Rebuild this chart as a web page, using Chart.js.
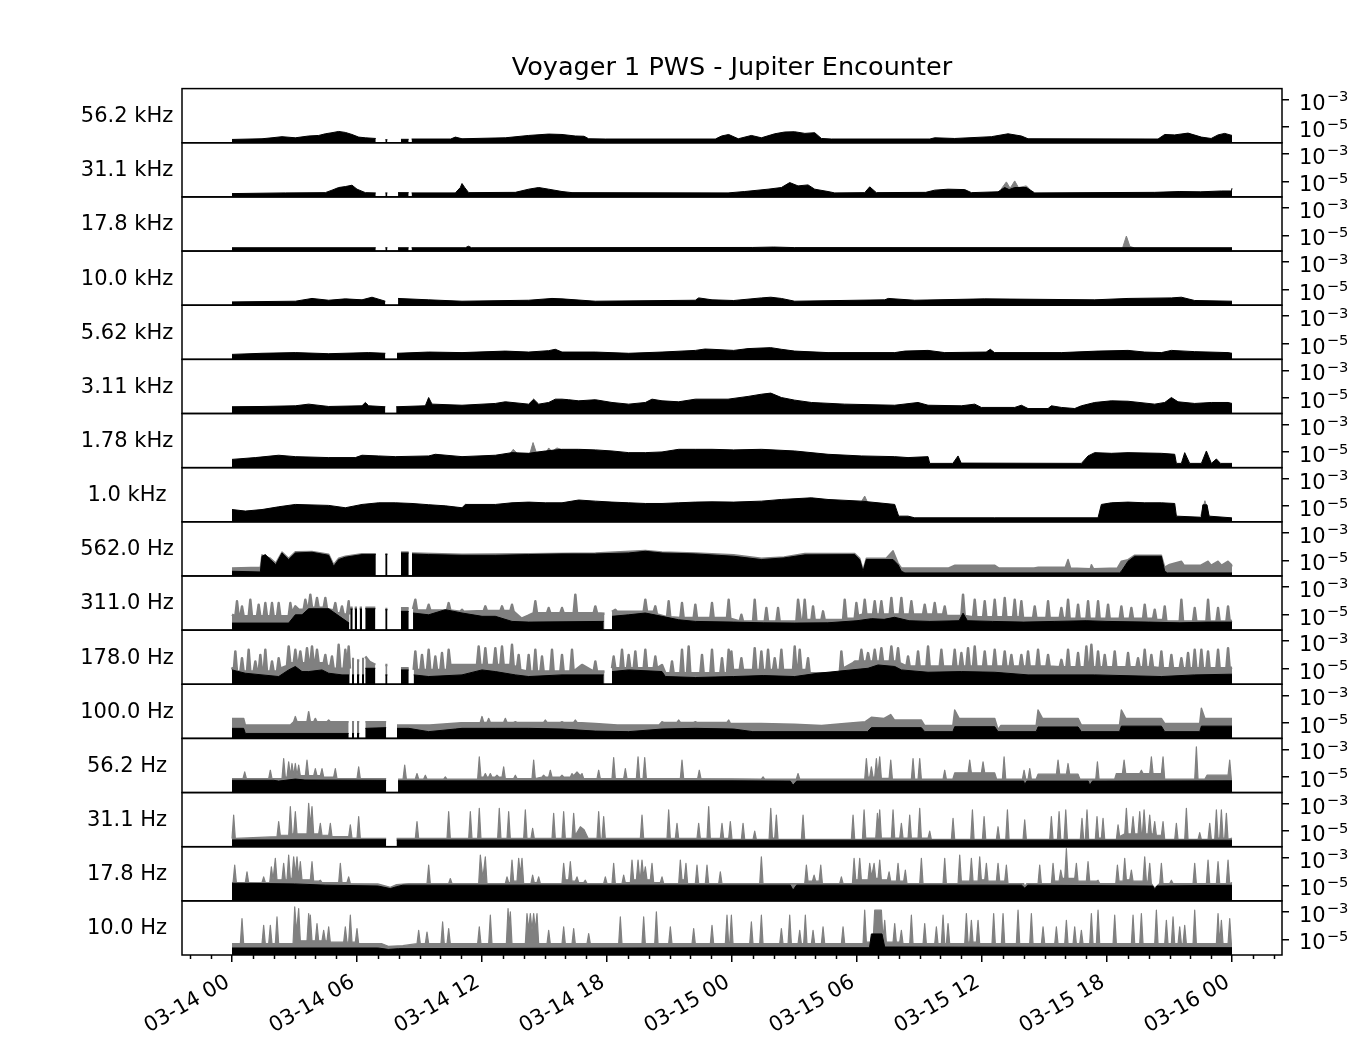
<!DOCTYPE html>
<html>
<head>
<meta charset="utf-8">
<title>Voyager 1 PWS - Jupiter Encounter</title>
<script src="https://cdn.jsdelivr.net/npm/chart.js@4.4.0/dist/chart.umd.min.js"></script>
<style>
  html, body { margin: 0; padding: 0; background: #fff; }
  #wrap { width: 1359px; height: 1045px; }
</style>
</head>
<body>
<div id="wrap"><canvas id="c" width="1359" height="1045"></canvas></div>
<script>
// time in hours after 1979-03-14 00:00, value = log10 of spectral density (null = no data)
// black = mean, grey = peak

const mean56k = [[0,-5.89],[1.44,-5.84],[1.92,-5.77],[2.4,-5.69],[3.04,-5.77],[3.68,-5.64],[4.16,-5.6],[4.48,-5.48],[4.8,-5.4],[5.12,-5.31],[5.44,-5.38],[5.76,-5.53],[6.08,-5.72],[6.4,-5.77],[6.9,-5.82],[6.95,null],[7.36,-5.91],[7.46,-5.91],[7.5,null],[8.11,-5.88],[8.48,-5.88],[8.52,null],[8.62,-5.86],[10.5,-5.86],[10.72,-5.72],[11.04,-5.84],[13.12,-5.77],[14.24,-5.6],[15.2,-5.5],[15.84,-5.53],[16.48,-5.64],[16.9,-5.66],[17.12,-5.84],[17.92,-5.86],[23.2,-5.86],[23.5,-5.64],[23.84,-5.53],[24.3,-5.84],[24.93,-5.6],[25.41,-5.77],[26.05,-5.48],[26.53,-5.35],[27.0,-5.33],[27.5,-5.45],[27.97,-5.4],[28.29,-5.82],[28.77,-5.86],[33.5,-5.86],[33.73,-5.77],[34.69,-5.82],[36.45,-5.69],[37.25,-5.48],[37.89,-5.64],[38.21,-5.84],[44.45,-5.86],[44.77,-5.53],[45.25,-5.56],[45.89,-5.43],[46.53,-5.72],[47.0,-5.82],[47.33,-5.56],[47.65,-5.45],[48,-5.6]];
const peak56k = [];

const mean31k = [[0,-5.89],[2.56,-5.84],[4.48,-5.82],[4.8,-5.64],[5.12,-5.45],[5.44,-5.38],[5.76,-5.28],[6.0,-5.57],[6.4,-5.82],[6.9,-5.84],[6.95,null],[7.36,-5.84],[7.46,-5.84],[7.5,null],[7.97,-5.82],[8.48,-5.82],[8.52,null],[8.62,-5.84],[10.72,-5.84],[10.96,-5.45],[11.04,-5.16],[11.17,-5.45],[11.36,-5.82],[13.6,-5.8],[14.24,-5.57],[14.72,-5.45],[15.2,-5.57],[15.84,-5.74],[16.32,-5.82],[23.81,-5.84],[24.61,-5.74],[25.73,-5.57],[26.37,-5.45],[26.77,-5.09],[27.17,-5.33],[27.65,-5.26],[27.97,-5.57],[28.61,-5.74],[28.93,-5.84],[30.37,-5.82],[30.61,-5.4],[30.93,-5.82],[33.3,-5.8],[33.73,-5.64],[34.37,-5.57],[35.17,-5.6],[35.49,-5.82],[36.77,-5.76],[37.09,-5.45],[37.3,-5.6],[37.57,-5.45],[38.13,-5.45],[38.53,-5.84],[44.29,-5.8],[45.5,-5.74],[46.5,-5.76],[47.5,-5.7],[47.97,-5.7],[48,-5.5]];
const peak31k = [[36.9,-5.6],[37.17,-5.04],[37.35,-5.5],[37.57,-4.97],[37.75,-5.45],[38.13,-5.33],[38.3,-5.6]];

const mean17k = [[0,-5.89],[6.9,-5.89],[6.95,null],[7.36,-5.89],[7.46,-5.89],[7.5,null],[7.97,-5.89],[8.48,-5.89],[8.52,null],[8.62,-5.89],[11.2,-5.89],[11.35,-5.78],[11.5,-5.89],[25.0,-5.87],[26.0,-5.84],[27.0,-5.88],[48,-5.89]];
const peak17k = [[42.75,-5.89],[42.93,-5.04],[43.1,-5.8],[43.3,-5.89]];

const mean10k = [[0,-5.89],[3.04,-5.84],[3.84,-5.64],[4.64,-5.77],[5.44,-5.67],[6.24,-5.74],[6.72,-5.55],[7.36,-5.84],[7.42,null],[7.97,-5.64],[9.44,-5.74],[11.04,-5.84],[14.24,-5.77],[15.36,-5.64],[15.84,-5.67],[17.44,-5.84],[22.24,-5.77],[22.4,-5.6],[23.04,-5.74],[24.08,-5.79],[25.41,-5.6],[25.86,-5.55],[26.37,-5.64],[27.01,-5.84],[31.33,-5.74],[31.5,-5.64],[32.77,-5.77],[36.13,-5.67],[41.41,-5.74],[43.01,-5.64],[45.09,-5.6],[45.57,-5.55],[46.21,-5.79],[48,-5.84]];
const peak10k = [];

const mean5k = [[0,-5.77],[1.44,-5.69],[3.04,-5.64],[4.64,-5.72],[6.56,-5.64],[7.36,-5.69],[7.42,null],[7.92,-5.69],[9.44,-5.6],[11.04,-5.64],[13.12,-5.53],[14.24,-5.6],[15.2,-5.5],[15.52,-5.4],[15.84,-5.6],[17.44,-5.6],[19.04,-5.69],[20.64,-5.6],[22.24,-5.48],[22.7,-5.38],[23.04,-5.4],[24.08,-5.48],[24.77,-5.35],[25.86,-5.28],[26.37,-5.4],[27.01,-5.53],[28.61,-5.64],[31.81,-5.64],[32.3,-5.53],[33.41,-5.48],[34.21,-5.64],[36.2,-5.6],[36.4,-5.4],[36.6,-5.64],[39.81,-5.64],[41.57,-5.53],[43.01,-5.48],[43.81,-5.6],[44.61,-5.64],[45.09,-5.48],[46.21,-5.57],[47.81,-5.64],[48,-5.69]];
const peak5k = [];

const mean3k = [[0,-5.64],[1.44,-5.62],[3.04,-5.57],[3.68,-5.45],[4.64,-5.62],[6.24,-5.57],[6.4,-5.33],[6.56,-5.57],[7.36,-5.64],[7.42,null],[7.88,-5.64],[9.28,-5.57],[9.44,-4.97],[9.6,-5.45],[11.04,-5.53],[12.64,-5.4],[13.12,-5.28],[14.24,-5.45],[14.48,-5.09],[14.72,-5.45],[15.2,-5.33],[15.52,-5.09],[15.84,-5.09],[16.16,-5.13],[16.64,-5.21],[17.44,-5.13],[18.24,-5.33],[19.04,-5.45],[19.84,-5.33],[20.16,-5.09],[20.64,-5.21],[21.44,-5.28],[22.24,-5.09],[23.04,-5.09],[23.81,-5.09],[24.77,-4.89],[25.41,-4.73],[25.86,-4.65],[26.37,-4.97],[27.01,-5.16],[27.81,-5.33],[29.41,-5.45],[31.81,-5.53],[32.93,-5.33],[33.41,-5.53],[35.01,-5.57],[35.65,-5.45],[35.97,-5.69],[37.57,-5.69],[37.89,-5.53],[38.21,-5.77],[39.17,-5.77],[39.33,-5.57],[39.81,-5.69],[40.45,-5.77],[40.77,-5.57],[41.41,-5.33],[42.21,-5.21],[43.01,-5.24],[44.29,-5.45],[44.77,-5.33],[45.09,-4.97],[45.41,-5.28],[46.21,-5.4],[47.01,-5.33],[47.81,-5.33],[48,-5.4]];
const peak3k = [];

const mean1k7 = [[0,-5.53],[1.12,-5.4],[2.24,-5.23],[3.04,-5.33],[4.64,-5.4],[5.92,-5.4],[6.24,-5.23],[7.04,-5.28],[7.84,-5.33],[9.44,-5.28],[9.76,-5.16],[11.04,-5.33],[12.64,-5.23],[13.44,-5.04],[14.24,-5.09],[15.04,-4.92],[15.84,-4.8],[16.64,-4.8],[17.44,-4.84],[18.24,-4.92],[19.04,-5.04],[19.84,-5.04],[20.64,-4.99],[21.44,-4.8],[22.24,-4.8],[23.04,-4.8],[24.08,-4.84],[25.41,-4.8],[27.01,-4.92],[28.61,-5.16],[30.21,-5.28],[31.81,-5.33],[32.45,-5.4],[33.41,-5.33],[33.49,-5.82],[34.6,-5.82],[34.85,-5.28],[35.0,-5.8],[40.77,-5.82],[41.09,-5.28],[41.41,-5.04],[42.21,-5.09],[43.01,-5.04],[44.61,-5.09],[45.25,-5.16],[45.33,-5.82],[45.57,-5.82],[45.73,-5.04],[45.97,-5.82],[46.53,-5.82],[46.77,-4.92],[47.01,-5.82],[47.25,-5.5],[47.45,-5.82],[48,-5.82]];
const peak1k7 = [[13.3,-5.2],[13.5,-4.8],[13.7,-5.1],[14.3,-5.1],[14.45,-4.31],[14.6,-5.0],[15.1,-5.0],[15.2,-4.7],[15.35,-4.95],[15.6,-4.7],[15.8,-4.8]];

const mean1k = [[0,-5.24],[0.64,-5.35],[1.44,-5.24],[2.24,-5.04],[3.04,-4.87],[4.64,-4.94],[5.44,-5.11],[6.24,-4.87],[7.04,-4.75],[7.84,-4.75],[8.64,-4.8],[9.44,-4.89],[10.24,-4.97],[11.04,-5.11],[11.2,-4.87],[12.64,-4.87],[13.44,-4.75],[14.24,-4.7],[15.04,-4.75],[15.84,-4.75],[16.64,-4.55],[17.44,-4.63],[18.24,-4.7],[19.04,-4.75],[19.84,-4.8],[20.64,-4.8],[21.44,-4.75],[22.24,-4.7],[23.04,-4.68],[24.08,-4.7],[25.41,-4.63],[26.37,-4.51],[27.81,-4.39],[28.61,-4.51],[30.21,-4.63],[31.01,-4.75],[31.81,-4.87],[32.0,-5.72],[32.45,-5.72],[32.77,-5.84],[36.61,-5.84],[41.57,-5.84],[41.73,-4.87],[42.21,-4.75],[43.01,-4.7],[43.81,-4.75],[44.61,-4.75],[45.25,-4.8],[45.33,-5.72],[46.53,-5.8],[46.6,-4.9],[46.8,-4.9],[46.9,-5.72],[47.97,-5.84],[48,-5.84]];
const peak1k = [[30.2,-4.7],[30.37,-4.26],[30.5,-4.7],[30.6,null],[46.5,-5.7],[46.7,-4.6],[46.9,-5.7]];

const mean562 = [[0,-5.79],[1.36,-5.84],[1.44,-4.7],[1.6,-4.58],[1.84,-4.94],[2.1,-5.31],[2.4,-4.46],[2.72,-4.94],[3.04,-4.46],[3.84,-4.41],[4.64,-4.63],[4.88,-5.43],[5.12,-4.94],[5.44,-4.77],[6.24,-4.58],[6.9,-4.58],[6.95,null],[7.36,-4.58],[7.46,-4.58],[7.5,null],[8.11,-4.46],[8.48,-4.46],[8.52,null],[8.64,-4.53],[9.44,-4.58],[11.04,-4.63],[12.64,-4.63],[14.24,-4.58],[15.84,-4.53],[17.44,-4.53],[19.04,-4.46],[19.84,-4.34],[20.64,-4.46],[22.24,-4.53],[24.08,-4.7],[25.41,-4.94],[26.5,-4.82],[27.5,-4.6],[29.89,-4.58],[30.13,-4.94],[30.29,-5.79],[30.45,-4.94],[31.73,-4.94],[31.97,-5.31],[32.13,-5.79],[32.3,-5.91],[42.6,-5.91],[42.69,-5.79],[43.01,-5.06],[43.33,-4.7],[44.61,-4.7],[44.77,-5.79],[44.9,-5.91],[48,-5.91]];
const peak562 = [[0,-5.55],[1.36,-5.5],[1.44,-4.6],[1.84,-4.85],[2.1,-5.2],[2.4,-4.4],[2.72,-4.85],[3.04,-4.38],[3.84,-4.35],[4.64,-4.55],[4.88,-5.3],[5.12,-4.85],[5.44,-4.7],[6.24,-4.52],[6.9,-4.52],[6.95,null],[7.36,-4.52],[7.46,-4.52],[7.5,null],[8.11,-4.4],[8.48,-4.4],[8.52,null],[8.64,-4.47],[11.04,-4.56],[14.24,-4.52],[17.44,-4.47],[19.84,-4.28],[20.64,-4.4],[22.24,-4.47],[24.08,-4.6],[25.41,-4.85],[26.5,-4.75],[27.5,-4.5],[29.89,-4.5],[30.13,-4.85],[30.29,-5.7],[30.45,-4.85],[31.4,-4.85],[31.73,-4.3],[31.97,-5.2],[32.13,-5.55],[34.4,-5.55],[34.7,-5.35],[36.6,-5.35],[36.8,-5.55],[38.5,-5.55],[38.7,-5.5],[40.0,-5.5],[40.13,-4.94],[40.25,-5.55],[41.2,-5.6],[41.25,-5.31],[41.35,-5.6],[42.5,-5.55],[42.69,-5.06],[43.01,-4.95],[43.33,-4.62],[44.61,-4.62],[44.77,-5.5],[45.0,-5.3],[45.57,-5.06],[45.7,-5.35],[46.5,-5.35],[46.85,-5.06],[47.0,-5.35],[47.33,-5.06],[47.5,-5.35],[47.81,-5.06],[47.97,-5.3],[48,-5.45]];

const mean311 = [[0,-5.62],[2.72,-5.62],[3.04,-5.02],[3.36,-5.02],[3.68,-4.58],[4.64,-4.58],[5.28,-5.26],[5.62,-5.62],[5.66,null],[5.68,-4.6],[5.79,-4.6],[5.8,null],[5.89,-4.6],[6.0,-4.6],[6.05,null],[6.13,-4.6],[6.24,-4.6],[6.3,null],[6.4,-4.58],[6.88,-4.58],[6.9,null],[7.36,-4.65],[7.46,-4.65],[7.5,null],[8.11,-4.77],[8.48,-4.77],[8.55,null],[8.69,-4.89],[9.44,-5.02],[10.24,-4.65],[11.04,-4.89],[12.0,-5.13],[12.64,-5.13],[13.44,-5.5],[14.24,-5.55],[17.84,-5.5],[17.9,null],[18.24,-5.13],[19.04,-5.02],[19.84,-4.89],[20.64,-5.13],[21.44,-5.38],[22.24,-5.5],[24.08,-5.55],[25.5,-5.6],[27.0,-5.62],[28.6,-5.6],[30.0,-5.45],[30.7,-5.3],[31.3,-5.35],[31.8,-5.2],[32.5,-5.45],[33.5,-5.5],[34.9,-5.45],[35.09,-4.9],[35.3,-5.45],[36.5,-5.5],[38.0,-5.55],[39.5,-5.5],[41.0,-5.45],[42.0,-5.5],[44.0,-5.55],[45.5,-5.6],[46.8,-5.55],[48,-5.55]];
const peak311 = [[0,-5.0],[0.16,-5.13],[0.24,-4.04],[0.32,-5.13],[0.4,-5.13],[0.48,-4.41],[0.56,-5.13],[0.8,-5.13],[0.88,-3.93],[0.96,-5.13],[1.2,-5.13],[1.28,-4.29],[1.36,-5.13],[1.52,-5.13],[1.6,-4.17],[1.68,-5.13],[1.84,-5.13],[1.92,-4.17],[2.0,-5.13],[2.16,-5.13],[2.24,-4.17],[2.32,-5.13],[2.72,-5.13],[2.8,-4.17],[2.88,-4.9],[3.04,-4.41],[3.2,-4.65],[3.44,-4.65],[3.52,-3.93],[3.6,-4.5],[3.68,-4.5],[3.76,-3.56],[3.84,-4.5],[4.0,-4.5],[4.08,-3.8],[4.16,-4.5],[4.4,-4.5],[4.48,-3.8],[4.56,-4.6],[4.88,-4.7],[4.96,-4.17],[5.04,-4.9],[5.2,-4.9],[5.28,-4.41],[5.36,-5.0],[5.52,-5.0],[5.6,-4.04],[5.64,-5.0],[5.66,null],[5.68,-4.5],[5.79,-4.5],[5.8,null],[5.89,-4.5],[6.0,-4.5],[6.05,null],[6.13,-4.5],[6.24,-4.5],[6.3,null],[6.4,-4.5],[6.88,-4.5],[6.9,null],[7.36,-4.6],[7.46,-4.6],[7.5,null],[8.11,-4.55],[8.48,-4.55],[8.55,null],[8.69,-4.6],[8.8,-3.93],[8.88,-4.7],[9.36,-4.7],[9.44,-4.29],[9.52,-4.7],[10.32,-4.7],[10.4,-4.17],[10.48,-4.7],[10.96,-4.8],[11.04,-4.65],[11.12,-4.8],[12.08,-4.75],[12.16,-4.41],[12.24,-4.75],[12.88,-4.75],[12.96,-4.41],[13.04,-4.75],[13.36,-4.75],[13.44,-4.29],[13.52,-4.8],[13.9,-5.3],[14.2,-5.1],[14.48,-4.9],[14.56,-4.04],[14.64,-4.9],[15.12,-4.9],[15.2,-4.53],[15.28,-4.9],[15.76,-4.9],[15.84,-4.53],[15.92,-4.9],[16.4,-4.9],[16.48,-3.56],[16.56,-4.9],[17.36,-4.9],[17.44,-4.41],[17.52,-4.9],[17.88,-4.95],[17.9,null],[18.24,-4.8],[18.4,-4.65],[18.48,-4.8],[19.76,-4.78],[19.84,-3.93],[19.92,-4.78],[20.24,-4.8],[20.32,-4.41],[20.4,-5.0],[20.88,-5.2],[20.96,-4.04],[21.04,-5.2],[21.52,-5.25],[21.6,-4.17],[21.68,-5.25],[22.16,-5.25],[22.24,-4.29],[22.32,-5.25],[22.96,-5.25],[23.04,-4.17],[23.12,-5.25],[23.76,-5.25],[23.84,-3.93],[23.92,-5.3],[24.37,-5.5],[24.45,-5.02],[24.53,-5.5],[25.01,-5.5],[25.09,-3.93],[25.17,-5.5],[25.57,-5.5],[25.65,-4.53],[25.73,-5.5],[26.13,-5.5],[26.21,-4.53],[26.29,-5.5],[27.09,-5.5],[27.17,-3.93],[27.3,-5.4],[27.41,-5.4],[27.49,-3.93],[27.57,-5.4],[27.81,-5.4],[27.89,-4.41],[27.97,-5.4],[28.29,-5.4],[28.37,-4.77],[28.45,-5.4],[29.33,-5.4],[29.41,-3.93],[29.49,-5.3],[29.89,-5.3],[29.97,-4.17],[30.05,-5.1],[30.29,-5.0],[30.37,-3.93],[30.45,-5.0],[30.77,-5.0],[30.85,-4.04],[30.93,-5.0],[31.09,-5.0],[31.17,-4.04],[31.25,-5.0],[31.57,-5.0],[31.65,-3.8],[31.73,-5.0],[32.05,-5.0],[32.13,-3.8],[32.21,-5.0],[32.53,-5.0],[32.61,-4.04],[32.69,-5.0],[33.17,-5.0],[33.25,-4.29],[33.33,-5.0],[33.65,-5.0],[33.73,-4.17],[33.81,-5.0],[34.13,-5.0],[34.21,-4.41],[34.29,-5.1],[35.01,-5.1],[35.09,-3.56],[35.17,-5.1],[35.57,-5.2],[35.65,-3.93],[35.73,-5.2],[36.05,-5.2],[36.13,-4.04],[36.21,-5.2],[36.53,-5.2],[36.61,-3.93],[36.69,-5.2],[37.01,-5.2],[37.09,-3.8],[37.17,-5.2],[37.49,-5.2],[37.57,-3.93],[37.65,-5.2],[37.81,-5.2],[37.89,-4.04],[37.97,-5.25],[38.45,-5.25],[38.53,-4.41],[38.61,-5.25],[39.09,-5.25],[39.17,-4.04],[39.25,-5.25],[39.73,-5.25],[39.81,-4.53],[39.89,-5.25],[40.05,-5.25],[40.13,-3.93],[40.21,-5.3],[40.53,-5.3],[40.61,-4.29],[40.69,-5.3],[41.01,-5.3],[41.09,-4.04],[41.17,-5.3],[41.49,-5.3],[41.57,-4.04],[41.65,-5.3],[41.97,-5.3],[42.05,-4.29],[42.13,-5.3],[42.61,-5.3],[42.69,-4.41],[42.77,-5.3],[43.09,-5.3],[43.17,-4.53],[43.25,-5.3],[43.73,-5.3],[43.81,-4.29],[43.89,-5.3],[44.21,-5.3],[44.29,-4.65],[44.37,-5.4],[44.69,-5.4],[44.77,-4.41],[44.85,-5.5],[45.49,-5.5],[45.57,-3.93],[45.65,-5.5],[46.13,-5.5],[46.21,-4.53],[46.29,-5.5],[46.77,-5.5],[46.85,-3.93],[46.93,-5.5],[47.25,-5.5],[47.33,-4.53],[47.41,-5.5],[47.73,-5.5],[47.81,-4.41],[47.89,-5.5],[48,-5.45]];

const mean178 = [[0,-5.09],[0.64,-5.33],[1.44,-5.45],[2.24,-5.57],[2.72,-5.09],[3.04,-4.84],[3.36,-5.21],[3.68,-5.21],[4.32,-5.09],[4.64,-5.33],[5.28,-5.45],[5.62,-5.45],[5.68,null],[5.76,-5.45],[5.86,-5.45],[5.9,null],[6.0,-5.45],[6.11,-5.45],[6.15,null],[6.24,-5.45],[6.34,-5.45],[6.37,null],[6.4,-4.97],[6.88,-4.97],[6.9,null],[7.36,-5.45],[7.46,-5.45],[7.5,null],[8.11,-5.09],[8.48,-5.09],[8.55,null],[8.72,-5.45],[9.44,-5.57],[11.04,-5.45],[12.0,-5.09],[12.64,-5.21],[13.6,-5.45],[14.24,-5.57],[15.84,-5.45],[17.84,-5.45],[17.9,null],[18.24,-5.21],[19.04,-5.09],[20.64,-5.21],[20.8,-5.57],[22.24,-5.64],[24.08,-5.57],[25.5,-5.5],[27.01,-5.57],[28.13,-5.33],[30.53,-4.97],[31.01,-4.73],[31.81,-4.84],[32.13,-5.09],[33.41,-5.26],[35.01,-5.21],[36.61,-5.26],[38.21,-5.45],[41.41,-5.45],[44.61,-5.57],[46.21,-5.45],[48,-5.4]];
const peak178 = [[0,-4.9],[0.08,-5.21],[0.16,-3.75],[0.24,-5.21],[0.4,-5.21],[0.48,-4.24],[0.56,-5.21],[0.72,-5.21],[0.8,-3.63],[0.88,-5.21],[1.04,-5.21],[1.12,-4.48],[1.2,-5.21],[1.28,-5.21],[1.36,-4.0],[1.44,-5.21],[1.52,-5.21],[1.6,-3.63],[1.68,-5.21],[1.84,-5.21],[1.92,-4.48],[2.0,-5.21],[2.16,-5.21],[2.24,-4.24],[2.32,-5.0],[2.64,-4.8],[2.72,-3.39],[2.8,-4.6],[2.96,-4.6],[3.04,-3.63],[3.12,-4.6],[3.2,-4.6],[3.28,-3.75],[3.36,-4.6],[3.52,-4.6],[3.6,-3.51],[3.68,-4.6],[3.76,-4.6],[3.84,-3.39],[3.92,-4.6],[4.0,-4.6],[4.08,-3.63],[4.16,-4.6],[4.4,-4.6],[4.48,-4.0],[4.56,-4.8],[4.72,-4.8],[4.8,-4.12],[4.88,-5.0],[5.04,-5.0],[5.12,-3.27],[5.2,-5.0],[5.36,-5.0],[5.44,-3.63],[5.52,-5.1],[5.6,-3.39],[5.66,-5.0],[5.68,null],[5.76,-4.3],[5.86,-4.3],[5.9,null],[6.0,-4.4],[6.11,-4.4],[6.15,null],[6.24,-4.3],[6.34,-4.3],[6.37,null],[6.4,-4.12],[6.6,-4.5],[6.88,-4.73],[6.9,null],[7.36,-4.73],[7.46,-4.73],[7.5,null],[8.11,-4.97],[8.48,-4.97],[8.55,null],[8.72,-5.09],[8.8,-3.75],[8.88,-5.09],[9.04,-5.09],[9.12,-4.0],[9.2,-5.09],[9.36,-5.09],[9.44,-3.63],[9.52,-5.09],[9.68,-5.09],[9.76,-4.12],[9.84,-5.09],[10.0,-5.09],[10.08,-3.87],[10.16,-5.09],[10.32,-5.09],[10.4,-3.63],[10.48,-4.73],[11.04,-4.73],[11.76,-4.73],[11.84,-3.39],[11.92,-4.73],[12.08,-4.73],[12.16,-3.51],[12.24,-4.73],[12.56,-4.73],[12.64,-3.51],[12.72,-4.73],[12.88,-4.73],[12.96,-3.39],[13.04,-4.73],[13.36,-4.73],[13.44,-3.27],[13.52,-4.8],[13.68,-4.9],[13.76,-4.0],[13.84,-5.1],[14.16,-5.21],[14.24,-4.0],[14.32,-5.21],[14.48,-5.21],[14.56,-3.63],[14.64,-5.21],[14.8,-5.21],[14.88,-4.12],[14.96,-5.21],[15.28,-5.21],[15.36,-3.63],[15.44,-5.21],[15.76,-5.21],[15.84,-4.0],[15.92,-5.21],[16.24,-5.21],[16.32,-3.63],[16.4,-5.21],[16.8,-4.73],[17.36,-5.21],[17.44,-4.48],[17.52,-5.21],[17.88,-5.21],[17.9,null],[18.24,-4.97],[18.32,-4.12],[18.4,-4.97],[18.64,-4.97],[18.72,-3.63],[18.8,-4.97],[18.96,-4.97],[19.04,-4.0],[19.12,-4.97],[19.28,-4.97],[19.36,-3.75],[19.44,-4.97],[19.76,-4.97],[19.84,-3.63],[19.92,-4.97],[20.24,-4.97],[20.32,-4.12],[20.4,-4.97],[20.64,-4.73],[20.8,-5.33],[21.04,-5.33],[21.12,-4.48],[21.2,-5.33],[21.52,-5.33],[21.6,-3.63],[21.68,-5.33],[21.84,-5.33],[21.92,-3.39],[22.0,-5.33],[22.48,-5.33],[22.56,-4.0],[22.64,-5.33],[22.96,-5.33],[23.04,-3.63],[23.12,-5.33],[23.44,-5.33],[23.52,-4.24],[23.6,-5.33],[23.76,-5.33],[23.84,-3.63],[23.9,-5.2],[23.97,-3.75],[24.05,-5.09],[24.37,-5.09],[24.45,-4.24],[24.53,-5.09],[25.01,-5.09],[25.09,-3.51],[25.17,-5.09],[25.33,-5.09],[25.41,-3.75],[25.49,-5.09],[25.65,-5.09],[25.73,-3.63],[25.81,-5.09],[25.97,-5.09],[26.05,-4.24],[26.13,-5.09],[26.29,-5.09],[26.37,-3.63],[26.45,-5.09],[26.93,-5.09],[27.01,-3.39],[27.09,-5.09],[27.17,-5.09],[27.25,-3.63],[27.33,-5.09],[27.57,-5.09],[27.65,-4.24],[27.73,-5.33],[29.17,-5.33],[29.25,-3.75],[29.33,-5.0],[29.81,-4.6],[29.89,-4.48],[30.13,-4.48],[30.21,-3.63],[30.29,-4.48],[30.45,-4.48],[30.53,-3.87],[30.61,-4.48],[30.77,-4.48],[30.85,-3.63],[30.93,-4.48],[31.09,-4.48],[31.17,-3.51],[31.25,-4.48],[31.57,-4.48],[31.65,-3.39],[31.73,-4.48],[31.89,-4.48],[31.97,-3.51],[32.05,-4.6],[32.37,-4.84],[32.45,-4.12],[32.53,-4.84],[32.85,-4.84],[32.93,-3.75],[33.01,-4.84],[33.33,-4.84],[33.41,-3.39],[33.49,-4.84],[33.97,-4.84],[34.05,-3.63],[34.13,-4.84],[34.61,-4.84],[34.69,-3.63],[34.77,-4.84],[34.93,-4.84],[35.01,-3.87],[35.09,-4.84],[35.25,-4.84],[35.33,-3.51],[35.41,-4.84],[35.57,-4.84],[35.65,-3.39],[35.73,-4.84],[36.05,-4.84],[36.13,-3.75],[36.21,-4.84],[36.53,-4.84],[36.61,-3.63],[36.69,-4.84],[37.01,-4.84],[37.09,-3.75],[37.17,-4.84],[37.33,-4.84],[37.41,-4.0],[37.49,-4.84],[37.81,-4.84],[37.89,-4.0],[37.97,-4.84],[38.13,-4.84],[38.21,-3.75],[38.29,-4.84],[38.61,-4.84],[38.69,-3.63],[38.77,-4.84],[39.09,-4.84],[39.17,-4.0],[39.25,-4.84],[39.73,-4.9],[39.81,-4.36],[39.89,-4.9],[40.05,-4.9],[40.13,-3.63],[40.21,-4.9],[40.53,-4.9],[40.61,-3.87],[40.69,-4.9],[40.93,-4.9],[41.01,-3.39],[41.09,-4.9],[41.17,-4.9],[41.25,-3.27],[41.33,-4.9],[41.49,-4.9],[41.57,-3.75],[41.65,-4.9],[41.81,-4.9],[41.89,-4.0],[41.97,-4.9],[42.29,-4.9],[42.37,-3.75],[42.45,-4.9],[42.93,-4.9],[43.01,-3.87],[43.09,-4.9],[43.41,-4.9],[43.49,-4.24],[43.57,-4.9],[43.73,-4.9],[43.81,-3.63],[43.89,-4.9],[44.05,-4.9],[44.13,-4.0],[44.21,-4.9],[44.53,-4.97],[44.61,-3.75],[44.69,-4.97],[45.01,-4.97],[45.09,-4.0],[45.17,-4.97],[45.49,-4.97],[45.57,-4.24],[45.65,-4.97],[45.81,-4.97],[45.89,-3.87],[45.97,-4.97],[46.13,-4.97],[46.21,-3.63],[46.29,-4.97],[46.45,-4.97],[46.53,-3.63],[46.61,-4.97],[46.77,-4.97],[46.85,-3.75],[46.93,-4.97],[47.25,-4.97],[47.33,-3.63],[47.41,-4.97],[47.73,-4.97],[47.81,-3.51],[47.89,-4.97],[48,-4.9]];

const mean100 = [[0,-5.4],[0.56,-5.4],[0.64,-5.77],[5.6,-5.77],[5.7,null],[5.76,-5.77],[5.86,-5.77],[5.9,null],[6.0,-5.77],[6.11,-5.77],[6.2,null],[6.4,-5.4],[7.4,-5.35],[7.44,null],[7.92,-5.4],[8.48,-5.4],[9.44,-5.64],[10.72,-5.45],[11.04,-5.4],[12.64,-5.4],[14.24,-5.4],[15.84,-5.45],[17.44,-5.6],[19.04,-5.64],[20.64,-5.45],[22.24,-5.4],[24.08,-5.45],[25.0,-5.64],[30.5,-5.64],[30.69,-5.35],[33.09,-5.35],[33.25,-5.64],[34.6,-5.64],[34.69,-5.28],[36.61,-5.28],[36.77,-5.64],[38.6,-5.64],[38.69,-5.3],[40.61,-5.3],[40.77,-5.64],[42.6,-5.64],[42.69,-5.24],[44.61,-5.24],[44.77,-5.64],[46.45,-5.64],[46.53,-5.24],[48,-5.24]];
const peak100 = [[0,-4.68],[0.56,-4.68],[0.64,-5.16],[2.8,-5.16],[2.96,-4.92],[3.04,-4.55],[3.12,-4.92],[3.6,-4.92],[3.68,-4.19],[3.76,-4.92],[3.92,-4.92],[4.0,-4.68],[4.08,-4.92],[4.56,-4.92],[4.64,-4.8],[4.72,-4.92],[5.6,-4.92],[5.7,null],[5.76,-4.92],[5.86,-4.92],[5.9,null],[6.0,-4.92],[6.11,-4.92],[6.2,null],[6.4,-4.92],[7.4,-4.92],[7.44,null],[7.92,-5.16],[9.5,-5.16],[11.0,-5.0],[11.92,-4.97],[12.0,-4.55],[12.08,-4.97],[12.24,-4.97],[12.32,-4.68],[12.4,-4.97],[13.04,-4.97],[13.12,-4.68],[13.2,-4.97],[13.52,-4.97],[13.6,-4.92],[13.68,-4.97],[14.96,-4.97],[15.04,-4.8],[15.12,-4.97],[15.76,-4.97],[15.84,-4.92],[15.92,-4.97],[16.4,-4.97],[16.48,-4.8],[16.56,-4.97],[17.44,-5.04],[18.5,-5.16],[20.5,-5.16],[20.64,-4.92],[20.72,-4.97],[21.36,-4.97],[21.44,-4.8],[21.52,-4.97],[22.16,-4.97],[22.24,-4.92],[22.32,-4.97],[23.76,-4.97],[23.84,-4.8],[23.92,-5.04],[25.4,-5.04],[27.0,-5.1],[28.3,-5.2],[29.4,-5.04],[30.4,-4.92],[30.69,-4.6],[31.3,-4.68],[31.62,-4.4],[31.8,-4.8],[33.09,-4.8],[33.25,-5.2],[34.6,-5.2],[34.69,-4.07],[34.9,-4.68],[36.61,-4.68],[36.77,-5.5],[36.9,-5.2],[38.6,-5.2],[38.69,-4.07],[38.9,-4.68],[40.61,-4.68],[40.77,-5.16],[42.6,-5.16],[42.69,-4.07],[42.9,-4.68],[44.61,-4.68],[44.77,-5.04],[46.45,-5.04],[46.53,-3.95],[46.7,-4.68],[48,-4.68]];

const mean56 = [[0,-5.24],[2.0,-5.24],[2.24,-5.3],[3.04,-5.15],[3.5,-5.22],[7.4,-5.24],[7.44,null],[7.97,-5.28],[24.0,-5.28],[26.8,-5.3],[26.93,-5.6],[27.1,-5.3],[38.0,-5.3],[38.05,-5.55],[38.15,-5.3],[41.1,-5.3],[41.17,-5.6],[41.3,-5.3],[48,-5.28]];
const peak56 = [[0,-5.11],[0.53,-5.11],[0.61,-4.63],[0.69,-5.11],[1.76,-5.11],[1.84,-4.51],[1.92,-5.11],[2.4,-5.11],[2.48,-3.66],[2.56,-5.0],[2.64,-5.0],[2.72,-3.9],[2.8,-4.9],[2.88,-4.02],[2.96,-4.9],[3.04,-4.02],[3.12,-4.9],[3.2,-4.14],[3.28,-4.9],[3.52,-4.9],[3.6,-3.78],[3.68,-4.9],[3.92,-4.9],[4.0,-4.39],[4.08,-4.9],[4.24,-4.9],[4.32,-4.39],[4.4,-5.0],[4.88,-5.0],[4.96,-4.39],[5.04,-5.11],[6.0,-5.11],[6.08,-4.26],[6.16,-5.11],[7.4,-5.11],[7.44,null],[7.97,-5.15],[8.21,-5.15],[8.29,-4.14],[8.37,-5.15],[8.8,-5.15],[8.88,-4.75],[8.96,-5.15],[9.2,-5.15],[9.28,-4.87],[9.36,-5.15],[10.16,-5.15],[10.24,-4.99],[10.32,-5.15],[11.79,-5.15],[11.87,-3.54],[11.95,-5.0],[12.08,-5.0],[12.16,-4.75],[12.24,-5.0],[12.32,-5.0],[12.4,-4.75],[12.48,-5.0],[12.64,-5.0],[12.72,-4.87],[12.8,-5.0],[12.96,-5.0],[13.04,-4.26],[13.12,-5.11],[13.52,-5.11],[13.6,-4.87],[13.68,-5.11],[14.4,-5.11],[14.48,-3.78],[14.56,-5.11],[14.88,-5.0],[14.96,-4.87],[15.04,-5.0],[15.2,-5.0],[15.28,-4.51],[15.36,-5.0],[15.76,-5.0],[15.84,-4.87],[15.92,-5.0],[16.24,-5.0],[16.32,-4.75],[16.4,-4.9],[16.56,-4.63],[16.72,-4.9],[16.8,-4.75],[16.88,-5.11],[17.52,-5.11],[17.6,-4.51],[17.68,-5.11],[18.24,-5.11],[18.32,-3.59],[18.4,-5.11],[18.8,-5.11],[18.88,-4.39],[18.96,-5.11],[19.41,-5.11],[19.49,-3.54],[19.57,-5.11],[19.73,-5.11],[19.81,-3.59],[19.89,-5.11],[21.52,-5.11],[21.6,-3.78],[21.68,-5.11],[22.35,-5.11],[22.43,-4.51],[22.51,-5.11],[25.41,-5.15],[25.49,-4.99],[25.57,-5.15],[27.09,-5.15],[27.17,-4.75],[27.25,-5.15],[30.37,-5.15],[30.45,-3.66],[30.53,-5.0],[30.61,-5.0],[30.69,-4.26],[30.77,-5.0],[30.85,-5.0],[30.93,-3.66],[31.0,-4.9],[31.09,-3.54],[31.17,-5.1],[31.54,-5.1],[31.62,-3.78],[31.7,-5.15],[32.61,-5.15],[32.69,-3.66],[32.77,-5.15],[32.93,-5.15],[33.01,-3.66],[33.09,-5.15],[34.13,-5.15],[34.21,-4.51],[34.29,-5.15],[34.6,-5.15],[34.69,-4.7],[35.33,-4.7],[35.41,-3.78],[35.49,-4.7],[35.97,-4.7],[36.05,-3.9],[36.13,-4.7],[36.61,-4.7],[36.7,-5.15],[36.98,-5.15],[37.06,-3.54],[37.14,-5.15],[37.94,-5.15],[38.02,-4.51],[38.1,-5.15],[38.21,-5.15],[38.29,-4.39],[38.37,-5.15],[38.6,-5.15],[38.69,-4.8],[39.57,-4.8],[39.65,-3.78],[39.73,-4.8],[40.05,-4.8],[40.13,-4.02],[40.21,-4.8],[40.61,-4.8],[40.7,-5.15],[41.46,-5.15],[41.54,-3.9],[41.62,-5.15],[42.37,-5.15],[42.45,-4.75],[42.74,-4.75],[42.82,-3.78],[42.9,-4.75],[43.57,-4.75],[43.65,-4.51],[43.73,-4.75],[44.05,-4.75],[44.13,-3.54],[44.21,-4.75],[44.61,-4.75],[44.69,-3.54],[44.77,-5.15],[46.21,-5.15],[46.29,-2.81],[46.37,-5.15],[46.7,-5.15],[46.8,-4.87],[47.81,-4.87],[47.89,-3.78],[47.97,-5.15],[48,-5.15]];

const mean31 = [[0,-5.64],[7.4,-5.62],[7.44,null],[7.9,-5.64],[24,-5.66],[48,-5.66]];
const peak31 = [[0,-5.53],[0.08,-3.83],[0.16,-5.53],[2.16,-5.4],[2.24,-4.31],[2.32,-5.3],[2.72,-5.3],[2.8,-3.22],[2.88,-5.2],[2.96,-5.2],[3.04,-3.59],[3.12,-5.2],[3.6,-5.2],[3.68,-2.98],[3.76,-4.6],[3.84,-3.22],[3.92,-5.2],[4.16,-5.2],[4.24,-4.43],[4.32,-5.3],[4.64,-5.3],[4.72,-4.43],[4.8,-5.4],[5.6,-5.4],[5.68,-4.55],[5.76,-5.5],[6.0,-5.5],[6.08,-3.95],[6.16,-5.53],[7.4,-5.53],[7.44,null],[7.9,-5.53],[8.8,-5.53],[8.88,-4.31],[8.96,-5.53],[10.32,-5.53],[10.4,-3.59],[10.48,-5.53],[11.36,-5.53],[11.44,-3.59],[11.52,-5.53],[11.79,-5.53],[11.87,-3.34],[11.95,-5.53],[12.75,-5.53],[12.83,-3.34],[12.91,-5.53],[13.2,-5.53],[13.28,-3.59],[13.36,-5.53],[14.0,-5.53],[14.08,-3.46],[14.16,-5.53],[14.35,-5.53],[14.43,-4.8],[14.51,-5.53],[15.36,-5.53],[15.44,-3.71],[15.52,-5.53],[15.84,-5.53],[15.92,-3.59],[16.0,-5.53],[16.32,-5.53],[16.4,-3.71],[16.48,-5.3],[16.72,-4.68],[16.9,-4.9],[17.1,-5.53],[17.52,-5.53],[17.6,-3.59],[17.68,-5.53],[17.76,-5.53],[17.84,-3.95],[17.92,-5.53],[19.6,-5.53],[19.68,-3.83],[19.76,-5.53],[20.88,-5.53],[20.96,-3.46],[21.04,-5.53],[21.28,-5.53],[21.36,-4.43],[21.44,-5.53],[22.32,-5.53],[22.4,-4.43],[22.48,-5.53],[22.8,-5.53],[22.88,-3.22],[22.96,-5.53],[23.44,-5.53],[23.52,-4.43],[23.6,-5.53],[23.84,-5.53],[23.92,-4.31],[24.0,-5.6],[24.45,-5.6],[24.53,-4.43],[24.61,-5.6],[25.01,-5.6],[25.09,-5.0],[25.17,-5.6],[25.78,-5.6],[25.86,-3.34],[25.94,-5.5],[26.05,-5.5],[26.13,-3.83],[26.21,-5.6],[27.33,-5.6],[27.41,-3.83],[27.49,-5.6],[29.73,-5.6],[29.81,-3.83],[29.89,-5.6],[30.26,-5.6],[30.34,-3.46],[30.42,-5.5],[30.9,-5.5],[30.98,-3.71],[31.03,-4.8],[31.09,-3.46],[31.17,-5.5],[31.65,-5.5],[31.73,-3.46],[31.81,-5.5],[32.05,-5.5],[32.13,-4.43],[32.21,-5.5],[32.45,-5.5],[32.53,-3.83],[32.61,-5.5],[32.93,-5.5],[33.01,-3.34],[33.09,-5.5],[33.41,-5.5],[33.49,-5.0],[33.57,-5.6],[34.53,-5.6],[34.61,-4.07],[34.69,-5.6],[35.46,-5.6],[35.54,-3.46],[35.62,-5.6],[36.02,-5.6],[36.1,-3.95],[36.18,-5.6],[36.69,-5.6],[36.77,-4.68],[36.85,-5.6],[37.14,-5.6],[37.22,-3.46],[37.3,-5.6],[37.97,-5.6],[38.05,-4.19],[38.13,-5.6],[39.25,-5.6],[39.33,-3.95],[39.41,-5.6],[39.62,-5.6],[39.7,-3.59],[39.78,-5.6],[39.94,-5.6],[40.02,-3.46],[40.1,-5.6],[40.72,-5.6],[40.8,-4.07],[40.88,-5.6],[40.96,-5.6],[41.04,-3.46],[41.12,-5.6],[41.44,-5.6],[41.52,-3.95],[41.6,-5.5],[41.73,-5.5],[41.81,-4.07],[41.89,-5.6],[42.45,-5.6],[42.53,-4.55],[42.61,-5.4],[42.85,-5.2],[42.93,-3.34],[43.01,-5.2],[43.17,-5.2],[43.25,-3.95],[43.33,-5.2],[43.49,-5.2],[43.57,-3.59],[43.65,-5.2],[43.7,-5.2],[43.78,-3.46],[43.86,-5.2],[43.97,-5.2],[44.05,-3.83],[44.13,-5.2],[44.21,-5.2],[44.29,-4.31],[44.37,-5.3],[44.61,-5.3],[44.69,-4.31],[44.77,-5.6],[45.25,-5.6],[45.33,-4.43],[45.41,-5.6],[45.73,-5.6],[45.81,-3.34],[45.89,-5.6],[46.37,-5.6],[46.45,-5.11],[46.53,-5.6],[46.85,-5.6],[46.93,-4.43],[47.01,-5.6],[47.17,-5.6],[47.25,-3.46],[47.33,-5.5],[47.41,-5.5],[47.49,-3.46],[47.57,-5.5],[47.65,-5.5],[47.73,-3.71],[47.81,-5.6],[48,-5.5]];

const mean17 = [[0,-4.85],[3.0,-4.9],[4.5,-4.99],[7.0,-5.05],[7.6,-5.24],[7.9,-5.1],[8.2,-4.99],[24,-4.99],[26.8,-4.99],[26.93,-5.35],[27.1,-4.99],[37.9,-4.99],[38.05,-5.2],[38.2,-4.99],[44.2,-5.05],[44.29,-5.3],[44.4,-5.05],[48,-5.0]];
const peak17 = [[0,-4.8],[0.05,-4.8],[0.13,-3.54],[0.21,-4.8],[0.64,-4.8],[0.72,-4.02],[0.8,-4.8],[1.44,-4.8],[1.52,-4.39],[1.6,-4.8],[1.81,-4.8],[1.89,-3.66],[1.97,-4.6],[2.0,-4.6],[2.08,-3.05],[2.16,-4.6],[2.4,-4.6],[2.48,-3.41],[2.56,-4.6],[2.64,-4.6],[2.72,-2.81],[2.8,-4.5],[2.88,-4.5],[2.96,-2.93],[3.04,-4.2],[3.12,-2.93],[3.2,-4.5],[3.28,-3.29],[3.36,-4.6],[3.76,-4.6],[3.84,-3.29],[3.92,-4.7],[4.16,-4.7],[4.24,-4.63],[4.32,-4.8],[5.12,-4.8],[5.2,-3.41],[5.28,-4.8],[5.52,-4.8],[5.6,-4.39],[5.68,-4.87],[7.0,-4.9],[7.6,-5.15],[7.9,-4.95],[8.5,-4.87],[9.36,-4.87],[9.44,-3.54],[9.52,-4.87],[10.4,-4.87],[10.48,-4.51],[10.56,-4.87],[11.84,-4.87],[11.92,-2.81],[12.04,-4.5],[12.16,-2.93],[12.24,-4.87],[13.12,-4.87],[13.2,-4.39],[13.28,-4.8],[13.36,-4.8],[13.44,-3.17],[13.52,-4.7],[13.68,-4.7],[13.76,-3.05],[13.84,-4.2],[13.92,-3.05],[14.0,-4.87],[14.35,-4.87],[14.43,-4.26],[14.51,-4.8],[14.64,-4.8],[14.72,-4.39],[14.8,-4.87],[15.84,-4.87],[15.92,-3.41],[16.0,-4.6],[16.16,-4.6],[16.24,-3.29],[16.32,-4.7],[16.48,-4.7],[16.56,-4.39],[16.64,-4.8],[16.88,-4.8],[16.96,-4.63],[17.04,-4.87],[17.84,-4.87],[17.92,-4.39],[18.0,-4.87],[18.24,-4.87],[18.32,-3.41],[18.4,-4.87],[18.72,-4.87],[18.8,-4.26],[18.88,-4.8],[19.12,-4.8],[19.2,-3.17],[19.28,-4.6],[19.41,-4.6],[19.49,-3.17],[19.57,-4.5],[19.6,-4.5],[19.68,-3.17],[19.76,-4.4],[19.84,-3.66],[19.92,-4.6],[20.08,-4.6],[20.16,-3.41],[20.24,-4.8],[20.56,-4.8],[20.64,-4.39],[20.72,-4.87],[21.44,-4.87],[21.52,-3.17],[21.6,-4.6],[21.71,-4.6],[21.79,-3.41],[21.87,-4.87],[22.24,-4.87],[22.32,-3.54],[22.4,-4.87],[22.72,-4.87],[22.8,-3.54],[22.88,-4.87],[23.36,-4.87],[23.44,-4.02],[23.52,-4.87],[25.33,-4.87],[25.41,-2.93],[25.49,-4.87],[27.49,-4.87],[27.57,-3.54],[27.65,-4.7],[27.86,-4.7],[27.94,-4.26],[28.02,-4.7],[28.18,-4.7],[28.26,-3.54],[28.34,-4.87],[29.17,-4.87],[29.25,-4.39],[29.33,-4.87],[29.78,-4.87],[29.86,-3.05],[29.94,-4.6],[30.05,-4.6],[30.13,-3.05],[30.21,-4.6],[30.53,-4.6],[30.61,-3.41],[30.7,-4.4],[30.82,-3.41],[30.9,-4.5],[31.01,-4.5],[31.09,-3.17],[31.17,-4.6],[31.46,-4.6],[31.54,-4.02],[31.62,-4.7],[31.89,-4.7],[31.97,-3.41],[32.05,-4.7],[32.24,-4.7],[32.32,-3.9],[32.4,-4.87],[33.01,-4.87],[33.09,-3.05],[33.17,-4.87],[34.13,-4.87],[34.21,-3.05],[34.29,-4.87],[34.85,-4.87],[34.93,-2.81],[35.01,-4.7],[35.41,-4.7],[35.49,-3.05],[35.57,-4.7],[35.81,-4.7],[35.89,-2.93],[35.97,-4.6],[36.13,-4.6],[36.21,-3.41],[36.29,-4.7],[36.69,-4.7],[36.77,-3.41],[36.85,-4.7],[37.09,-4.7],[37.17,-3.54],[37.25,-4.87],[38.0,-4.87],[38.05,-5.1],[38.15,-4.87],[38.69,-4.87],[38.77,-3.54],[38.85,-4.87],[39.33,-4.87],[39.41,-3.41],[39.49,-4.7],[39.7,-4.7],[39.78,-3.9],[39.86,-4.5],[39.97,-4.5],[40.05,-2.33],[40.13,-4.5],[40.45,-4.5],[40.53,-3.41],[40.61,-4.7],[41.01,-4.7],[41.09,-3.29],[41.17,-4.7],[41.49,-4.7],[41.57,-4.63],[41.65,-4.87],[42.42,-4.87],[42.5,-3.54],[42.58,-4.7],[42.77,-4.7],[42.85,-3.05],[42.93,-4.6],[43.09,-4.6],[43.17,-3.9],[43.25,-4.7],[43.73,-4.7],[43.81,-2.93],[43.89,-4.7],[43.97,-4.7],[44.05,-3.41],[44.13,-4.87],[44.29,-5.2],[44.53,-4.87],[44.61,-3.41],[44.69,-4.87],[45.01,-4.87],[45.09,-4.63],[45.17,-4.87],[46.13,-4.87],[46.21,-3.41],[46.29,-4.87],[46.77,-4.87],[46.85,-3.17],[46.93,-4.87],[47.25,-4.87],[47.33,-3.29],[47.41,-4.87],[47.73,-4.87],[47.81,-3.17],[47.89,-4.87],[48,-4.8]];

const mean10 = [[0,-5.62],[7.0,-5.62],[7.5,-5.72],[8.0,-5.67],[24,-5.6],[30.6,-5.6],[30.69,-4.6],[31.2,-4.6],[31.33,-5.55],[48,-5.6]];
const peak10 = [[0,-5.31],[0.4,-5.31],[0.48,-3.49],[0.56,-5.31],[1.44,-5.31],[1.52,-3.97],[1.6,-5.31],[1.76,-5.31],[1.84,-3.97],[1.92,-5.31],[2.08,-5.31],[2.16,-3.37],[2.24,-5.31],[2.93,-5.31],[3.01,-2.64],[3.1,-4.5],[3.2,-2.76],[3.28,-5.1],[3.6,-5.1],[3.68,-3.12],[3.72,-4.5],[3.76,-3.24],[3.84,-5.1],[4.0,-5.1],[4.08,-3.85],[4.16,-5.1],[4.32,-5.1],[4.4,-4.34],[4.48,-5.1],[4.56,-5.1],[4.64,-4.09],[4.72,-5.2],[5.36,-5.2],[5.44,-4.09],[5.52,-5.2],[5.6,-5.2],[5.68,-3.24],[5.76,-5.2],[5.92,-5.2],[6.0,-4.21],[6.08,-5.31],[7.2,-5.31],[7.5,-5.5],[8.2,-5.45],[8.88,-5.31],[8.96,-4.34],[9.04,-5.31],[9.28,-5.31],[9.36,-4.46],[9.44,-5.31],[10.03,-5.31],[10.11,-3.73],[10.19,-5.31],[10.32,-5.31],[10.4,-4.21],[10.48,-5.31],[11.79,-5.31],[11.87,-4.09],[11.95,-5.31],[12.32,-5.31],[12.4,-3.24],[12.48,-5.31],[13.17,-5.31],[13.25,-2.76],[13.3,-4.0],[13.36,-3.0],[13.44,-5.31],[14.08,-5.31],[14.16,-3.12],[14.24,-4.3],[14.32,-3.12],[14.4,-4.3],[14.48,-3.12],[14.56,-4.3],[14.64,-3.12],[14.72,-5.31],[15.12,-5.31],[15.2,-4.34],[15.28,-5.31],[15.84,-5.31],[15.92,-4.09],[16.0,-5.31],[16.32,-5.31],[16.4,-4.21],[16.48,-5.31],[17.04,-5.31],[17.12,-4.58],[17.2,-5.31],[18.56,-5.31],[18.64,-3.37],[18.72,-5.31],[19.68,-5.31],[19.76,-3.37],[19.84,-5.31],[20.29,-5.31],[20.37,-3.0],[20.45,-5.31],[20.96,-5.31],[21.04,-4.09],[21.12,-5.31],[22.08,-5.31],[22.16,-4.21],[22.24,-5.31],[22.96,-5.31],[23.04,-3.97],[23.12,-5.31],[23.68,-5.31],[23.76,-3.24],[23.84,-5.31],[23.89,-5.31],[23.97,-3.24],[24.05,-5.31],[24.85,-5.31],[24.93,-3.73],[25.01,-5.31],[25.33,-5.31],[25.41,-3.24],[25.49,-5.31],[26.29,-5.31],[26.37,-4.21],[26.45,-5.31],[26.69,-5.31],[26.77,-3.24],[26.85,-5.31],[27.17,-5.31],[27.25,-4.34],[27.33,-5.31],[27.44,-5.31],[27.52,-3.24],[27.6,-5.31],[27.81,-5.31],[27.89,-4.34],[27.97,-5.31],[28.29,-5.31],[28.37,-4.09],[28.45,-5.31],[29.25,-5.31],[29.33,-4.09],[29.41,-5.31],[30.29,-5.31],[30.37,-2.88],[30.45,-5.2],[30.77,-5.2],[30.85,-2.88],[31.17,-2.88],[31.25,-5.0],[31.33,-3.61],[31.41,-5.2],[31.73,-5.2],[31.81,-3.85],[31.89,-5.2],[32.05,-5.2],[32.13,-4.34],[32.21,-5.31],[32.53,-5.31],[32.61,-3.24],[32.69,-5.31],[33.17,-5.31],[33.25,-3.85],[33.33,-5.31],[33.73,-5.31],[33.81,-4.09],[33.89,-5.31],[34.05,-5.31],[34.13,-3.24],[34.21,-5.31],[34.29,-5.31],[34.37,-3.85],[34.45,-5.31],[35.17,-5.31],[35.25,-3.12],[35.33,-5.2],[35.41,-5.2],[35.49,-3.61],[35.57,-5.2],[35.73,-5.2],[35.81,-3.61],[35.89,-5.31],[36.48,-5.31],[36.56,-3.12],[36.64,-5.31],[36.93,-5.31],[37.01,-3.12],[37.09,-5.31],[37.65,-5.31],[37.73,-2.88],[37.81,-5.31],[38.29,-5.31],[38.37,-3.12],[38.45,-5.31],[38.85,-5.31],[38.93,-4.09],[39.01,-5.31],[39.49,-5.31],[39.57,-4.09],[39.65,-5.31],[39.97,-5.31],[40.05,-3.61],[40.13,-5.31],[40.37,-5.31],[40.45,-4.09],[40.53,-5.31],[40.69,-5.31],[40.77,-4.34],[40.85,-5.31],[41.17,-5.31],[41.25,-3.12],[41.33,-5.31],[41.49,-5.31],[41.57,-2.88],[41.65,-5.31],[42.29,-5.31],[42.37,-3.24],[42.45,-5.31],[43.17,-5.31],[43.25,-3.24],[43.33,-5.31],[43.57,-5.31],[43.65,-3.12],[43.73,-5.31],[44.29,-5.31],[44.37,-2.88],[44.45,-5.31],[44.77,-5.31],[44.85,-3.61],[44.93,-5.31],[45.09,-5.31],[45.17,-3.37],[45.25,-5.31],[45.41,-5.31],[45.49,-4.09],[45.57,-5.31],[45.65,-5.31],[45.73,-3.97],[45.81,-5.31],[46.13,-5.31],[46.21,-2.88],[46.29,-5.31],[47.25,-5.31],[47.33,-3.12],[47.41,-5.31],[47.49,-3.61],[47.57,-5.31],[47.81,-5.31],[47.89,-3.49],[47.97,-5.31],[48,-5.31]];

const channels = ['56.2 kHz','31.1 kHz','17.8 kHz','10.0 kHz','5.62 kHz','3.11 kHz','1.78 kHz','1.0 kHz','562.0 Hz','311.0 Hz','178.0 Hz','100.0 Hz','56.2 Hz','31.1 Hz','17.8 Hz','10.0 Hz'];
const means = [mean56k, mean31k, mean17k, mean10k, mean5k, mean3k, mean1k7, mean1k, mean562, mean311, mean178, mean100, mean56, mean31, mean17, mean10];
const peaks = [peak56k, peak31k, peak17k, peak10k, peak5k, peak3k, peak1k7, peak1k, peak562, peak311, peak178, peak100, peak56, peak31, peak17, peak10];

const tickHours = [0, 6, 12, 18, 24, 30, 36, 42, 48];
const tickLabels = ['03-14 00','03-14 06','03-14 12','03-14 18','03-15 00','03-15 06','03-15 12','03-15 18','03-16 00'];
const yTicks = [1e-5, 1e-3];
const yTickExp = ['\u22125', '\u22123'];

// drawing style: the dense peak traces of the mid-frequency channels look thicker
const peakEdge = [1, 1, 1, 1, 1, 1, 1, 1, 1.5, 2.5, 2.5, 1.5, 1.2, 1.2, 1.2, 1.2];

const LOG_MIN = -6.13, LOG_MAX = -2.2;
const FONT = 'DejaVu Sans';

const toXY = arr => arr.map(([t, e]) => ({ x: t, y: e === null ? null : Math.pow(10, e) }));

const datasets = [];
const scales = {
  x: {
    type: 'linear', min: -2.4, max: 50.4, position: 'bottom',
    afterFit: s => { s.height = 90; },
    border: { display: false },
    grid: {
      drawOnChartArea: false, drawTicks: true, tickLength: 7, lineWidth: 1.5,
      color: c => (c.tick && c.tick.value % 6 === 0) ? '#000' : 'rgba(0,0,0,0)'
    },
    ticks: {
      stepSize: 1, includeBounds: false, autoSkip: false,
      minRotation: 30, maxRotation: 30, padding: 8, labelOffset: -4, color: '#000',
      font: { family: FONT, size: 21 },
      callback: v => { const k = tickHours.indexOf(v); return k >= 0 ? tickLabels[k] : ''; }
    }
  }
};

channels.forEach((name, i) => {
  const id = 'y' + i;
  datasets.push({
    label: name + ' mean', data: toXY(means[i]), yAxisID: id, order: 1,
    fill: 'start', backgroundColor: '#000', borderColor: '#000', borderWidth: 1,
    pointRadius: 0, tension: 0, spanGaps: false
  });
  datasets.push({
    label: name + ' peak', data: toXY(peaks[i]), yAxisID: id, order: 2,
    fill: 'start', backgroundColor: '#808080', borderColor: '#808080',
    borderWidth: peakEdge[i], borderJoinStyle: 'round',
    pointRadius: 0, tension: 0, spanGaps: false
  });
  scales[id] = {
    type: 'logarithmic', position: 'right', stack: 'panels', stackWeight: 1,
    min: Math.pow(10, LOG_MIN), max: Math.pow(10, LOG_MAX),
    afterFit: s => { s.width = 77; },
    afterBuildTicks: s => { s.ticks = yTicks.map(v => ({ value: v })); },
    border: { display: false },
    grid: { drawOnChartArea: false, drawTicks: true, tickLength: 7, lineWidth: 1.5, color: '#000' },
    ticks: { display: false }
  };
});

// panel frames, channel names, 10^n tick labels, minor hour ticks
const panelDecor = {
  id: 'panelDecor',
  afterDraw(chart) {
    const { ctx, chartArea } = chart;
    ctx.save();
    ctx.strokeStyle = '#000';
    ctx.lineWidth = 1.5;
    ctx.fillStyle = '#000';
    channels.forEach((name, i) => {
      const s = chart.scales['y' + i];
      ctx.strokeRect(chartArea.left, s.top, chartArea.right - chartArea.left, s.bottom - s.top);
      ctx.font = '21px "' + FONT + '"';
      ctx.textAlign = 'center';
      ctx.textBaseline = 'middle';
      ctx.fillText(name, 127, (s.top + s.bottom) / 2 + 1);
      ctx.textAlign = 'left';
      ctx.textBaseline = 'alphabetic';
      yTicks.forEach((v, k) => {
        const py = s.getPixelForValue(v);
        const x0 = chartArea.right + 17;
        ctx.font = '21px "' + FONT + '"';
        ctx.fillText('10', x0, py + 10);
        const w = ctx.measureText('10').width;
        ctx.font = '14.7px "' + FONT + '"';
        ctx.fillText(yTickExp[k], x0 + w + 1, py + 1.5);
      });
    });
    const xs = chart.scales.x;
    for (let h = -2; h <= 50; h++) {
      if (h % 6 === 0) continue;
      const px = Math.round(xs.getPixelForValue(h)) + 0.5;
      ctx.beginPath();
      ctx.moveTo(px, chartArea.bottom);
      ctx.lineTo(px, chartArea.bottom + 4);
      ctx.stroke();
    }
    ctx.restore();
  }
};

new Chart(document.getElementById('c'), {
  type: 'line',
  data: { datasets },
  options: {
    responsive: false, animation: false, devicePixelRatio: 1,
    layout: { padding: { left: 182, right: 0, top: 0, bottom: 0 } },
    plugins: {
      legend: { display: false },
      tooltip: { enabled: false },
      title: {
        display: true, text: 'Voyager 1 PWS - Jupiter Encounter', fullSize: false,
        color: '#000', font: { family: FONT, size: 25.5, weight: 'normal' },
        padding: { top: 53, bottom: 5 }
      }
    },
    scales
  },
  plugins: [panelDecor]
});
</script>
</body>
</html>
